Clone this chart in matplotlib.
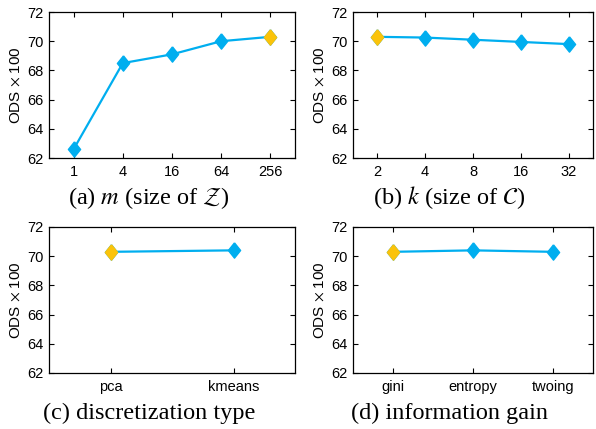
import matplotlib
matplotlib.use("Agg")
import matplotlib.pyplot as plt

# values (ODS x 100)
m_labels = ["1", "4", "16", "64", "256"]
m_values = [62.6, 68.5, 69.1, 70.0, 70.3]
k_labels = ["2", "4", "8", "16", "32"]
k_values = [70.3, 70.25, 70.1, 69.95, 69.8]
disc_labels = ["pca", "kmeans"]
disc_values = [70.3, 70.4]
gain_labels = ["gini", "entropy", "twoing"]
gain_values = [70.3, 70.4, 70.3]

# index of the default setting (drawn in yellow)
m_default = 4
k_default = 0
disc_default = 0
gain_default = 0

captions = [r"(a) $m$ (size of $\mathcal{Z}$)", r"(b) $k$ (size of $\mathcal{C}$)",
            "(c) discretization type", "(d) information gain"]

blue = "#00aeef"
yellow = "#fbc30a"
diamond = [(0, 1), (0.8, 0), (0, -1), (-0.8, 0), (0, 1)]

plt.rcParams["font.family"] = "Liberation Sans"
plt.rcParams["mathtext.fontset"] = "stix"

fig = plt.figure(figsize=(5.96, 4.29), dpi=100)
boxes = [(49, 12, 295, 158), (353, 12, 593, 158),
         (49, 227, 295, 373), (353, 227, 593, 373)]
data = [(m_labels, m_values, m_default), (k_labels, k_values, k_default),
        (disc_labels, disc_values, disc_default), (gain_labels, gain_values, gain_default)]

for (x0, y0, x1, y1), (labels, vals, d), cap in zip(boxes, data, captions):
    ax = fig.add_axes([x0 / 596, 1 - y1 / 429, (x1 - x0) / 596, (y1 - y0) / 429])
    xs = list(range(1, len(vals) + 1))
    ax.plot(xs, vals, color=blue, lw=1.6, marker=diamond, ms=11,
            mfc=blue, mec=blue, zorder=3)
    ax.plot([xs[d]], [vals[d]], ls="none", marker=diamond, ms=11,
            mfc=yellow, mec=yellow, zorder=4)
    ax.set_xlim(0.5, len(vals) + 0.5)
    ax.set_ylim(62, 72)
    ax.set_yticks([62, 64, 66, 68, 70, 72])
    ax.set_xticks(xs)
    ax.set_xticklabels(labels)
    ax.tick_params(direction="in", top=True, right=True, length=3.5,
                   width=0.8, labelsize=10.5, pad=5)
    ax.tick_params(axis="y", pad=4)
    for s in ax.spines.values():
        s.set_linewidth(0.9)
    ax.set_ylabel(r"ODS$\,\times\,$100", fontsize=11, labelpad=3,
                  family="Liberation Sans")
    cx = 149 / 596 if x0 < 300 else 449 / 596
    cy = 1 - (y1 + 40) / 429
    fig.text(cx, cy, cap, ha="center", va="center", fontsize=17.5,
             family="Liberation Serif")

fig.savefig("out.png", dpi=100)
